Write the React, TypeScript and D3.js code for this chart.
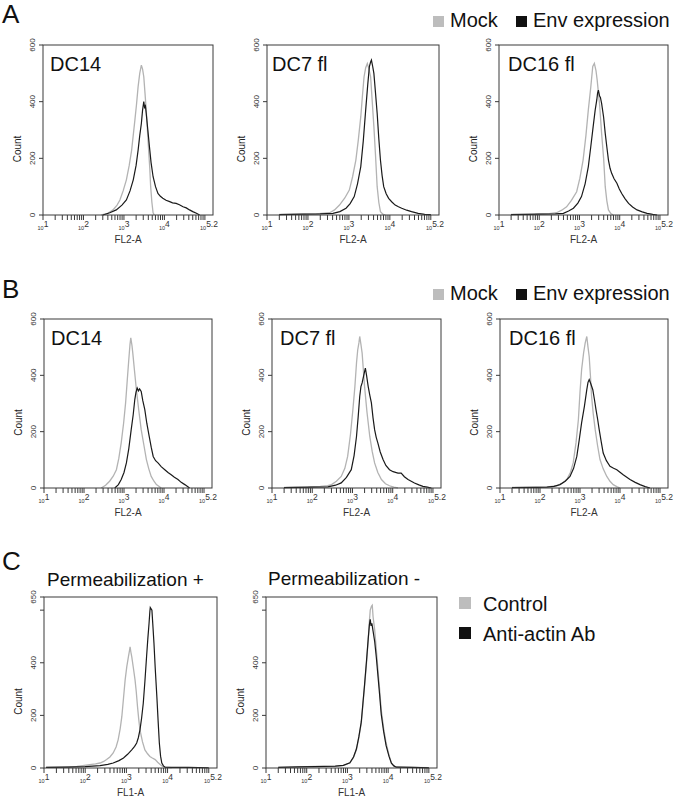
import React from "react";
import * as d3 from "d3";

type Pt = [number, number]; // [log10 fluorescence, count]

// ---------- Data (log10 channel value, count) ----------
const a1Mock: Pt[] = [[2.44,0],[2.6,6],[2.73,18],[2.83,35],[2.9,53],[2.98,85],[3.06,124],[3.13,175],[3.19,229],[3.27,335],[3.31,390],[3.35,453],[3.39,500],[3.43,529],[3.46,515],[3.49,488],[3.52,430],[3.55,370],[3.58,300],[3.61,229],[3.64,160],[3.66,100],[3.69,45],[3.72,8],[3.75,0]];
const a1Env: Pt[] = [[2.48,0],[2.65,8],[2.81,18],[2.95,35],[3.06,53],[3.15,85],[3.23,124],[3.3,175],[3.35,229],[3.39,280],[3.43,323],[3.46,370],[3.49,400],[3.51,380],[3.53,385],[3.55,359],[3.59,300],[3.63,241],[3.67,185],[3.72,135],[3.78,100],[3.84,76],[3.9,66],[3.96,59],[4.04,52],[4.13,47],[4.2,43],[4.29,41],[4.37,36],[4.46,29],[4.54,25],[4.62,18],[4.7,12],[4.79,6],[4.87,0]];

const a2Mock: Pt[] = [[1.3,2],[1.8,3],[2.2,4],[2.53,8],[2.65,18],[2.77,35],[2.9,60],[3.01,88],[3.09,135],[3.17,194],[3.23,265],[3.29,347],[3.33,420],[3.37,488],[3.41,520],[3.45,535],[3.49,515],[3.53,488],[3.57,400],[3.61,312],[3.65,210],[3.69,100],[3.73,45],[3.77,12],[3.83,3],[3.89,0]];
const a2Env: Pt[] = [[1.3,1],[1.9,3],[2.3,4],[2.61,6],[2.78,12],[2.93,24],[3.03,40],[3.13,65],[3.21,110],[3.29,171],[3.35,260],[3.41,371],[3.46,460],[3.5,524],[3.53,540],[3.55,547],[3.58,525],[3.61,500],[3.65,430],[3.69,359],[3.73,270],[3.77,194],[3.81,140],[3.85,100],[3.91,75],[3.97,59],[4.05,46],[4.13,35],[4.21,29],[4.29,24],[4.41,17],[4.53,12],[4.69,6],[4.85,2],[5.0,1]];

const a3Mock: Pt[] = [[1.3,2],[1.9,3],[2.25,5],[2.43,8],[2.56,17],[2.68,29],[2.8,52],[2.93,82],[3.01,130],[3.09,194],[3.16,280],[3.22,371],[3.28,450],[3.33,524],[3.37,535],[3.41,510],[3.44,476],[3.5,390],[3.55,288],[3.6,200],[3.64,100],[3.68,50],[3.72,18],[3.78,5],[3.84,0]];
const a3Env: Pt[] = [[1.3,1],[2.0,3],[2.4,4],[2.6,6],[2.73,14],[2.85,24],[2.96,42],[3.05,65],[3.14,110],[3.22,171],[3.28,240],[3.34,312],[3.39,370],[3.43,406],[3.45,430],[3.47,441],[3.5,420],[3.52,415],[3.55,394],[3.6,345],[3.64,288],[3.68,240],[3.72,194],[3.76,165],[3.8,147],[3.86,128],[3.93,112],[3.99,92],[4.05,76],[4.13,58],[4.22,41],[4.32,28],[4.43,18],[4.56,11],[4.68,6],[4.82,2],[4.93,0]];

const b1Mock: Pt[] = [[2.43,0],[2.54,10],[2.64,24],[2.73,42],[2.81,65],[2.87,105],[2.93,160],[2.99,230],[3.04,302],[3.08,380],[3.12,456],[3.15,510],[3.17,533],[3.2,505],[3.22,479],[3.26,420],[3.31,349],[3.37,275],[3.43,207],[3.5,150],[3.56,101],[3.62,68],[3.68,41],[3.75,24],[3.81,12],[3.88,5],[3.93,0]];
const b1Env: Pt[] = [[2.77,0],[2.86,12],[2.93,30],[3.0,55],[3.06,89],[3.12,140],[3.18,207],[3.23,260],[3.27,314],[3.3,340],[3.33,355],[3.36,345],[3.39,352],[3.43,343],[3.47,310],[3.52,278],[3.57,230],[3.63,183],[3.68,145],[3.73,112],[3.79,97],[3.85,89],[3.93,76],[4.02,65],[4.1,55],[4.18,47],[4.26,38],[4.35,30],[4.43,20],[4.52,12],[4.58,6],[4.64,0]];

const b2Mock: Pt[] = [[1.3,2],[1.9,4],[2.2,6],[2.38,8],[2.48,12],[2.6,24],[2.72,41],[2.81,70],[2.88,112],[2.95,190],[3.01,278],[3.06,360],[3.1,444],[3.13,490],[3.16,515],[3.18,538],[3.21,510],[3.24,479],[3.27,420],[3.3,361],[3.36,270],[3.43,183],[3.49,130],[3.55,89],[3.63,55],[3.72,30],[3.82,15],[3.92,8],[4.03,3],[4.13,0]];
const b2Env: Pt[] = [[1.3,1],[2.0,3],[2.39,4],[2.58,10],[2.72,18],[2.85,38],[2.97,65],[3.04,115],[3.1,183],[3.14,250],[3.18,325],[3.21,360],[3.24,373],[3.28,400],[3.32,426],[3.35,400],[3.39,361],[3.43,330],[3.47,302],[3.51,250],[3.55,207],[3.59,180],[3.63,160],[3.69,128],[3.76,101],[3.83,80],[3.92,65],[4.01,58],[4.13,53],[4.21,53],[4.29,40],[4.38,30],[4.46,24],[4.54,18],[4.65,11],[4.75,6],[4.86,3],[4.96,0]];

const b3Mock: Pt[] = [[1.3,2],[1.9,3],[2.2,4],[2.42,8],[2.55,17],[2.67,30],[2.76,55],[2.83,89],[2.9,160],[2.96,243],[3.0,340],[3.04,420],[3.09,480],[3.13,515],[3.17,538],[3.2,500],[3.23,467],[3.26,400],[3.29,325],[3.33,265],[3.38,207],[3.44,150],[3.5,101],[3.58,68],[3.67,41],[3.75,24],[3.83,12],[3.92,5],[4.0,0]];
const b3Env: Pt[] = [[1.3,1],[1.9,2],[2.17,3],[2.35,6],[2.5,12],[2.63,24],[2.75,41],[2.84,70],[2.92,112],[2.98,170],[3.04,231],[3.11,290],[3.17,349],[3.2,375],[3.23,385],[3.27,370],[3.32,349],[3.36,315],[3.4,278],[3.44,245],[3.48,207],[3.53,165],[3.58,124],[3.66,97],[3.75,77],[3.84,70],[3.92,65],[4.0,56],[4.08,47],[4.17,38],[4.25,30],[4.38,20],[4.5,12],[4.63,5],[4.75,0]];

const c1Control: Pt[] = [[1.05,2],[1.5,4],[1.8,6],[2.11,13],[2.25,16],[2.36,19],[2.45,25],[2.52,32],[2.6,42],[2.68,57],[2.75,80],[2.8,107],[2.85,150],[2.89,196],[2.93,265],[2.97,335],[3.01,385],[3.05,423],[3.08,450],[3.09,461],[3.11,440],[3.13,423],[3.17,380],[3.21,335],[3.24,290],[3.27,234],[3.3,185],[3.33,145],[3.39,100],[3.45,69],[3.51,55],[3.57,44],[3.63,38],[3.7,32],[3.76,22],[3.82,13],[3.88,6],[3.94,3],[4.1,1]];
const c1Actin: Pt[] = [[1.05,2],[1.6,3],[2.0,5],[2.36,9],[2.55,14],[2.68,19],[2.82,28],[2.93,38],[3.03,52],[3.13,69],[3.2,82],[3.25,95],[3.29,115],[3.33,145],[3.37,190],[3.41,246],[3.45,330],[3.49,423],[3.52,490],[3.55,549],[3.57,595],[3.58,610],[3.6,605],[3.62,600],[3.64,550],[3.67,473],[3.7,380],[3.74,271],[3.77,180],[3.8,95],[3.83,45],[3.86,19],[3.9,8],[3.94,3],[4.1,2],[4.5,2],[5.0,1]];

const c2Control: Pt[] = [[1.3,2],[1.8,4],[2.2,6],[2.42,5],[2.7,6],[2.9,10],[3.06,19],[3.15,40],[3.22,69],[3.28,115],[3.34,170],[3.38,240],[3.42,309],[3.47,400],[3.51,486],[3.54,560],[3.56,600],[3.59,615],[3.61,619],[3.63,575],[3.67,524],[3.71,450],[3.75,372],[3.79,300],[3.83,221],[3.89,150],[3.95,95],[4.02,50],[4.08,19],[4.14,9],[4.2,4],[4.6,2],[5.0,1]];
const c2Actin: Pt[] = [[1.3,2],[1.8,4],[2.2,5],[2.42,6],[2.7,7],[2.9,10],[3.06,20],[3.15,42],[3.22,72],[3.28,118],[3.34,175],[3.38,245],[3.42,315],[3.47,410],[3.51,490],[3.54,545],[3.56,565],[3.58,540],[3.6,550],[3.63,520],[3.67,480],[3.71,420],[3.75,350],[3.79,280],[3.83,205],[3.89,138],[3.95,85],[4.02,45],[4.08,18],[4.14,8],[4.2,3],[4.6,2],[5.0,1]];

const abTicks = [0, 200, 400, 600];
const abTickLabels = ["0", "200", "400", "600"];
const cTicks = [0, 200, 400, 600, 650];
const cTickLabels = ["0", "200", "400", "", "650"];
const xDecades = [1, 2, 3, 4];
const xEndLabel = "5.2";

const FONT = "'Liberation Sans', Arial, Helvetica, sans-serif";
const GRAY = "#b3b3b3";
const BLACK = "#1a1a1a";

type HistProps = {
  left: number; top: number; width: number; height: number;
  yMax: number; ticks: number[]; tickLabels: string[];
  xLabel: string; title?: string; titleDx?: number;
  gray: Pt[]; black: Pt[];
};

function Histogram(p: HistProps) {
  const x = d3.scaleLog().domain([10, 10 ** 5.2]).range([p.left, p.left + p.width]);
  const y = d3.scaleLinear().domain([0, p.yMax]).range([p.top + p.height, p.top]);
  const line = d3.line<Pt>().x((d) => x(10 ** d[0])).y((d) => y(d[1]));
  const bottom = p.top + p.height;
  const minor: number[] = [];
  for (let k = 1; k <= 4; k++) for (let m = 1; m <= 9; m++) minor.push(m * 10 ** k);
  minor.push(1e5);
  return (
    <g fontFamily={FONT}>
      {/* curves */}
      <path d={line(p.gray) || ""} fill="none" stroke={GRAY} strokeWidth={1.3} />
      <path d={line(p.black) || ""} fill="none" stroke={BLACK} strokeWidth={1.2} />
      {/* frame */}
      <rect x={p.left} y={p.top} width={p.width} height={p.height} fill="none" stroke="#3a3a3a" strokeWidth={1} />
      {/* y ticks */}
      {p.ticks.map((v, i) => (
        <g key={"y" + i}>
          <line x1={p.left - 4} x2={p.left} y1={y(v)} y2={y(v)} stroke="#3a3a3a" />
          {p.tickLabels[i] && (
            <text transform={`translate(${p.left - 8},${y(v)}) rotate(-90)`} textAnchor="middle" fontSize={8} fill="#333">
              {p.tickLabels[i]}
            </text>
          )}
        </g>
      ))}
      <text transform={`translate(${p.left - 22},${p.top + p.height / 2 + 19}) rotate(-90)`} textAnchor="middle" fontSize={10} fill="#222">
        Count
      </text>
      {/* x ticks */}
      {minor.map((v, i) => (
        <line key={"x" + i} x1={x(v)} x2={x(v)} y1={bottom} y2={bottom + 5} stroke="#3a3a3a" />
      ))}
      {xDecades.map((d) => (
        <text key={"xl" + d} x={x(10 ** d)} y={bottom + 15} textAnchor="middle" fill="#333">
          <tspan fontSize={5.5}>10</tspan>
          <tspan fontSize={8.5} dy={-3}>{d}</tspan>
        </text>
      ))}
      <text x={p.left + p.width - 4} y={bottom + 15} textAnchor="middle" fill="#333">
        <tspan fontSize={5.5}>10</tspan>
        <tspan fontSize={8.5} dy={-3}>{xEndLabel}</tspan>
      </text>
      <text x={p.left + p.width / 2} y={bottom + 28} textAnchor="middle" fontSize={10} fill="#333">
        {p.xLabel}
      </text>
      {p.title && (
        <text x={p.left + (p.titleDx ?? 7)} y={p.top + 26} fontSize={20} fill="#111">
          {p.title}
        </text>
      )}
    </g>
  );
}

function Legend({ x, y, gap, labels }: { x: number; y: number; gap: number; labels: string[] }) {
  return (
    <g fontFamily={FONT}>
      <rect x={x} y={y} width={11} height={11} fill="#bdbdbd" />
      <text x={x + 17} y={y + 11} fontSize={20} fill="#111">{labels[0]}</text>
      <rect x={x + gap} y={y} width={11} height={11} fill="#111" />
      <text x={x + gap + 17} y={y + 11} fontSize={20} fill="#111">{labels[1]}</text>
    </g>
  );
}

const legendAB = ["Mock", "Env expression"];

export default function App() {
  return (
    <div style={{ position: "absolute", left: 0, top: 0 }}>
      <svg width={680} height={799} style={{ display: "block", background: "#fff" }}>
        {/* Panel letters */}
        <text x={2} y={23} fontSize={26} fontFamily={FONT} fill="#111">A</text>
        <text x={2} y={298} fontSize={26} fontFamily={FONT} fill="#111">B</text>
        <text x={2} y={570} fontSize={26} fontFamily={FONT} fill="#111">C</text>

        <Legend x={433} y={16} gap={83} labels={legendAB} />
        <Legend x={433} y={289} gap={83} labels={legendAB} />

        <Histogram left={43} top={45} width={170} height={170} yMax={600} ticks={abTicks} tickLabels={abTickLabels} xLabel="FL2-A" title="DC14" gray={a1Mock} black={a1Env} />
        <Histogram left={267} top={45} width={172} height={170} yMax={600} ticks={abTicks} tickLabels={abTickLabels} xLabel="FL2-A" title="DC7 fl" titleDx={5} gray={a2Mock} black={a2Env} />
        <Histogram left={499} top={45} width={169} height={170} yMax={600} ticks={abTicks} tickLabels={abTickLabels} xLabel="FL2-A" title="DC16 fl" titleDx={9} gray={a3Mock} black={a3Env} />

        <Histogram left={44} top={319} width={168} height={169} yMax={600} ticks={abTicks} tickLabels={abTickLabels} xLabel="FL2-A" title="DC14" gray={b1Mock} black={b1Env} />
        <Histogram left={272} top={319} width={169} height={169} yMax={600} ticks={abTicks} tickLabels={abTickLabels} xLabel="FL2-A" title="DC7 fl" titleDx={8} gray={b2Mock} black={b2Env} />
        <Histogram left={500} top={319} width={168} height={169} yMax={600} ticks={abTicks} tickLabels={abTickLabels} xLabel="FL2-A" title="DC16 fl" titleDx={9} gray={b3Mock} black={b3Env} />

        <text x={47} y={586} fontSize={19} fontFamily={FONT} fill="#111">Permeabilization +</text>
        <text x={268} y={585} fontSize={19} fontFamily={FONT} fill="#111">Permeabilization -</text>
        <Histogram left={44} top={597} width={173} height={171} yMax={650} ticks={cTicks} tickLabels={cTickLabels} xLabel="FL1-A" gray={c1Control} black={c1Actin} />
        <Histogram left={266} top={597} width={171} height={171} yMax={650} ticks={cTicks} tickLabels={cTickLabels} xLabel="FL1-A" gray={c2Control} black={c2Actin} />

        <g fontFamily={FONT}>
          <rect x={459} y={597} width={12} height={12} fill="#bdbdbd" />
          <text x={483} y={611} fontSize={20} fill="#111">Control</text>
          <rect x={459} y={627} width={12} height={12} fill="#111" />
          <text x={483} y={641} fontSize={20} fill="#111">Anti-actin Ab</text>
        </g>
      </svg>
    </div>
  );
}
